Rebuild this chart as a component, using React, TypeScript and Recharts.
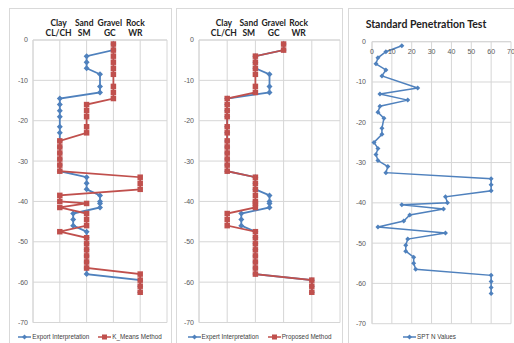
import React from 'react';
import { ScatterChart, Scatter, XAxis, YAxis, CartesianGrid, Legend } from 'recharts';

// sample depths (shared by all three panels)
const depths = [
  -1, -2.5, -4, -5.5, -7, -8.5, -11.5, -13, -14.5, -16, -17.5, -19, -21.5, -23, -25, -26.5,
  -28, -29.5, -31, -32.5, -34, -35.5, -37, -38.5, -40, -40.5, -41.5, -43, -44.5, -46, -47.5,
  -49, -50.5, -52, -53.5, -55, -56.5, -58, -59.5, -61, -62.5,
];

// soil class: 1 clay, 2 sand, 3 gravel, 4 rock (half values = mixed)
const expert = [
  3, 3, 2, 2, 2, 2.5, 2.5, 2.5, 1, 1, 1, 1, 1, 1, 1, 1, 1, 1, 1, 1, 2, 2, 2, 2.5, 2.5, 2.5, 2.5,
  1.5, 1.5, 1.5, 2, 2, 2, 2, 2, 2, 2, 2, 4, 4, 4,
];
const kMeans = [
  3, 3, 3, 3, 3, 3, 3, 3, 3, 2, 2, 2, 2, 2, 1, 1, 1, 1, 1, 1, 4, 4, 4, 1, 1, 2, 1, 2, 2, 2, 1,
  2, 2, 2, 2, 2, 2, 4, 4, 4, 4,
];
const proposed = [
  3, 3, 2, 2, 2, 2, 2, 2, 1, 1, 1, 1, 1, 1, 1, 1, 1, 1, 1, 1, 2, 2, 2, 2, 2, 2, 2, 1, 1, 1, 2,
  2, 2, 2, 2, 2, 2, 2, 4, 4, 4,
];
const sptN = [
  15, 7, 3, 2, 7, 5, 23, 4, 18, 4, 3, 6, 5, 5, 1, 3, 2, 3, 8, 7, 60, 60, 60, 37, 38, 15, 36, 19,
  16, 3, 37, 18, 17, 17, 21, 21, 22, 60, 60, 60, 60,
];

const soilNames = ['', 'Clay', 'Sand', 'Gravel', 'Rock', ''];
const soilCodes = ['', 'CL/CH', 'SM', 'GC', 'WR', ''];
const classTicks = [0, 1, 2, 3, 4, 5];
const depthTicks = [-70, -60, -50, -40, -30, -20, -10, 0];
const sptTicks = [0, 10, 20, 30, 40, 50, 60, 70];

const BLUE = '#4f81bd';
const RED = '#c0504d';
const GRID = '#d6d6d6';
const SANS = "'Liberation Sans', Arial, sans-serif";
const BOLD = "Lato, 'Liberation Sans', sans-serif";
const tickStyle = { fontFamily: SANS, fontSize: 7, fill: '#595959' };

const pts = (xs: number[]) => depths.map((d, i) => ({ x: xs[i], y: d }));

function diamond(cx: number, cy: number, r: number, fill: string) {
  return <path d={`M${cx},${cy - r}L${cx + r},${cy}L${cx},${cy + r}L${cx - r},${cy}Z`} fill={fill} />;
}
function square(cx: number, cy: number, s: number, fill: string) {
  return <rect x={cx - s / 2} y={cy - s / 2} width={s} height={s} fill={fill} />;
}

// the header text boxes sit a little left of their grid lines
function SoilTick(props: any) {
  const { x, y, payload, drift } = props;
  const i = classTicks.indexOf(payload.value);
  if (!soilNames[i]) return null;
  const tx = x + drift * payload.value;
  return (
    <text textAnchor="middle" fontFamily={BOLD} fontWeight={700} fontSize={8.5} fill="#222">
      <tspan x={tx} y={y - 14}>{soilNames[i]}</tspan>
      <tspan x={tx} y={y - 4}>{soilCodes[i]}</tspan>
    </text>
  );
}

type Item = { label: string; color: string; kind: 'diamond' | 'square' };

function LegendRow({ items, pad }: { items: Item[]; pad: number }) {
  return (
    <div style={{ display: 'flex', justifyContent: 'center', gap: 9, paddingTop: pad, fontFamily: SANS, fontSize: 6.3, color: '#404040', lineHeight: '8px' }}>
      {items.map((it) => (
        <span key={it.label} style={{ display: 'flex', alignItems: 'center' }}>
          <svg width={13} height={8}>
            <line x1={0} y1={4} x2={13} y2={4} stroke={it.color} strokeWidth={1.5} />
            {it.kind === 'diamond' ? diamond(6.5, 4, 2.5, it.color) : square(6.5, 4, 5, it.color)}
          </svg>
          <span style={{ marginLeft: 1 }}>{it.label}</span>
        </span>
      ))}
    </div>
  );
}

function SoilPanel({ left, width, right, drift, other, otherName, blueName }: any) {
  return (
    <div style={{ position: 'absolute', left, top: 8 }}>
      <ScatterChart width={width} height={335} margin={{ top: 4, right, left: 3, bottom: 0 }}>
        <CartesianGrid stroke={GRID} />
        <XAxis type="number" dataKey="x" orientation="top" domain={[0, 5]} ticks={classTicks} interval={0} height={28}
          tick={<SoilTick drift={drift} />} tickSize={0} tickMargin={0} axisLine={{ stroke: GRID }} tickLine={false} />
        <YAxis type="number" dataKey="y" domain={[-70, 0]} ticks={depthTicks} interval={0} width={20} tick={tickStyle} tickSize={3} tickMargin={2} tickLine={false} axisLine={{ stroke: GRID }} />
        <Scatter data={pts(expert)} line={{ stroke: BLUE, strokeWidth: 1.8 }} lineType="joint" isAnimationActive={false}
          shape={(p: any) => diamond(p.cx, p.cy, 3, BLUE)} />
        <Scatter data={pts(other)} line={{ stroke: RED, strokeWidth: 1.8 }} lineType="joint" isAnimationActive={false}
          shape={(p: any) => square(p.cx, p.cy, 5.5, RED)} />
        <Legend verticalAlign="bottom" height={20.5} content={() => (
          <LegendRow pad={10} items={[{ label: blueName, color: BLUE, kind: 'diamond' }, { label: otherName, color: RED, kind: 'square' }]} />
        )} />
      </ScatterChart>
    </div>
  );
}

function SptPanel() {
  const data = depths.map((d, i) => ({ x: sptN[i], y: d }));
  return (
    <div style={{ position: 'absolute', left: 348, top: 8 }}>
      <ScatterChart width={168} height={335} margin={{ top: 33.7, right: 5, left: 0, bottom: 0 }}>
        <CartesianGrid stroke={GRID} />
        <XAxis type="number" dataKey="x" orientation="top" mirror domain={[0, 70]} ticks={sptTicks} interval={0} tick={tickStyle} tickSize={5} tickMargin={2} tickLine={false} axisLine={{ stroke: GRID }} />
        <YAxis type="number" dataKey="y" domain={[-70, 0]} ticks={depthTicks} interval={0} width={24} tick={tickStyle} tickSize={4} tickMargin={2} tickLine={false} axisLine={{ stroke: GRID }} />
        <Scatter data={data} line={{ stroke: BLUE, strokeWidth: 1.5 }} lineType="joint" isAnimationActive={false}
          shape={(p: any) => diamond(p.cx, p.cy, 2.5, BLUE)} />
        <Legend verticalAlign="bottom" height={19.3} content={() => (
          <LegendRow pad={9} items={[{ label: 'SPT N Values', color: BLUE, kind: 'diamond' }]} />
        )} />
      </ScatterChart>
    </div>
  );
}

const frame = (left: number, width: number) => (
  <div style={{ position: 'absolute', left, top: 8, width, height: 345, border: '1px solid #d9d9d9', boxSizing: 'border-box' }} />
);

export default function App() {
  return (
    <div style={{ position: 'fixed', left: 0, top: 0, width: 514, height: 343, overflow: 'hidden', background: '#fff' }}>
      {frame(9, 163)}
      {frame(176, 167)}
      {frame(348, 180)}
      <SoilPanel left={10} width={161} right={4} drift={-1.2} other={kMeans} otherName="K_Means Method" blueName="Export Interpretation" />
      <SoilPanel left={176} width={166} right={2} drift={-3.3} other={proposed} otherName="Proposed Method" blueName="Expert Interpretation" />
      <SptPanel />
      <div style={{ position: 'absolute', left: 346, width: 160, top: 18, textAlign: 'center', fontFamily: BOLD, fontWeight: 700, fontSize: 10.5, color: '#222' }}>
        Standard Penetration Test
      </div>
    </div>
  );
}
